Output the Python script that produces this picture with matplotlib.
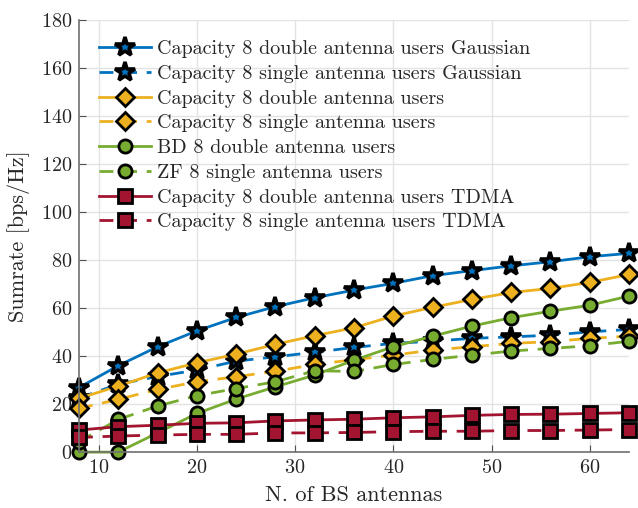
import numpy as np
import matplotlib
matplotlib.use('Agg')
import matplotlib.pyplot as plt

plt.rcParams['font.family'] = 'serif'
plt.rcParams['font.serif'] = ['cmr10']
plt.rcParams['mathtext.fontset'] = 'cm'
plt.rcParams['axes.formatter.use_mathtext'] = True

# number of BS antennas
n_antennas = np.arange(8, 65, 4)

cap_double_gauss = [26.9, 36.0, 43.9, 50.5, 56.1, 60.6, 64.3, 67.5, 70.3, 73.5, 75.6, 77.6, 79.3, 81.4, 82.8]
cap_single_gauss = [22.5, 28.3, 31.5, 34.2, 37.9, 39.7, 41.6, 43.6, 45.3, 46.2, 47.4, 48.0, 48.7, 50.1, 51.1]
cap_double = [22.4, 27.5, 33.0, 37.2, 40.8, 44.9, 48.5, 51.8, 56.7, 60.3, 63.6, 66.5, 68.2, 70.7, 74.0]
cap_single = [18.2, 22.0, 26.1, 29.3, 31.4, 33.7, 36.5, 38.5, 40.4, 42.5, 43.9, 45.3, 46.0, 47.4, 48.3]
bd_double = [0.0, 0.0, 8.0, 16.1, 22.1, 27.2, 32.1, 38.3, 43.9, 48.3, 52.5, 56.0, 58.7, 61.2, 65.0]
zf_single = [4.4, 13.6, 19.2, 23.5, 26.5, 29.3, 33.9, 33.6, 36.5, 38.6, 40.4, 42.1, 43.2, 44.3, 46.2]
tdma_double = [9.2, 10.6, 11.2, 12.0, 12.2, 13.0, 13.4, 13.7, 14.3, 14.7, 15.3, 15.7, 15.8, 16.1, 16.4]
tdma_single = [6.1, 6.7, 7.1, 7.4, 7.4, 8.0, 8.0, 8.2, 8.5, 8.7, 8.7, 9.0, 9.0, 9.2, 9.4]

blue = '#0072BD'
orange = '#EDB120'
green = '#77AC30'
red = '#A2142F'

fig = plt.figure(figsize=(6.38, 5.08), dpi=100)
ax = fig.add_axes([0.1238, 0.110, 0.8622, 0.8506])

# data, colour, line style, marker, marker size, edge width, label
series = [
    (cap_double_gauss, blue, '-', '*', 15, 2.6, 'Capacity 8 double antenna users Gaussian'),
    (cap_single_gauss, blue, '--', '*', 15, 2.6, 'Capacity 8 single antenna users Gaussian'),
    (cap_double, orange, '-', 'D', 9, 2, 'Capacity 8 double antenna users'),
    (cap_single, orange, '--', 'D', 9, 2, 'Capacity 8 single antenna users'),
    (bd_double, green, '-', 'o', 9.5, 2, 'BD 8 double antenna users'),
    (zf_single, green, '--', 'o', 9.5, 2, 'ZF 8 single antenna users'),
    (tdma_double, red, '-', 's', 9.5, 2, 'Capacity 8 double antenna users TDMA'),
    (tdma_single, red, '--', 's', 9.5, 2, 'Capacity 8 single antenna users TDMA'),
]

for vals, col, ls, mk, ms, mew, lab in series:
    ax.plot(n_antennas, vals, color=col, linestyle=ls, linewidth=2,
            dashes=(5, 3.5) if ls == '--' else (None, None),
            marker=mk, markersize=ms, markerfacecolor=col,
            markeredgecolor='k', markeredgewidth=mew, label=lab, clip_on=False)

ax.set_xlim(8, 64)
ax.set_ylim(0, 180)
ax.set_xticks([10, 20, 30, 40, 50, 60])
ax.set_yticks(np.arange(0, 181, 20))
ax.grid(True, color='#e3e3e3', linewidth=1)
ax.set_axisbelow(True)
for side in ['top', 'right']:
    ax.spines[side].set_visible(False)
for side in ['left', 'bottom']:
    ax.spines[side].set_color('#707070')
    ax.spines[side].set_linewidth(1.2)
ax.tick_params(direction='in', length=5, color='#505050', labelsize=14.5,
               labelcolor='#262626', pad=5)
ax.set_xlabel('N. of BS antennas', fontsize=16, color='#262626', labelpad=6)
ax.set_ylabel('Sumrate [bps/Hz]', fontsize=16, color='#262626', labelpad=8)

leg = ax.legend(loc='upper left', bbox_to_anchor=(0.0, 1.0), frameon=False,
                fontsize=14.5, handlelength=2.6, labelspacing=0.33,
                handletextpad=0.25, borderaxespad=0.6)
for t in leg.get_texts():
    t.set_color('#262626')

plt.savefig('out.png', dpi=100)
